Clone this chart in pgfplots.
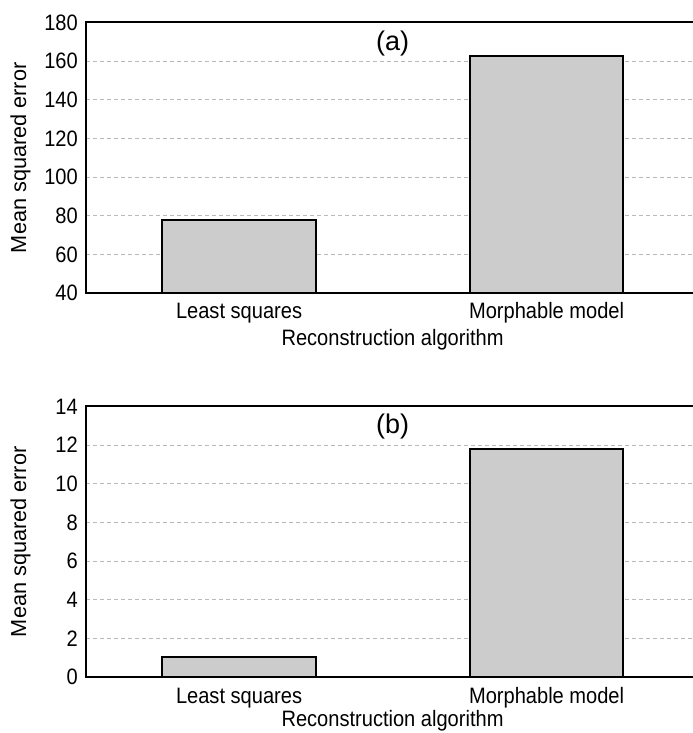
\documentclass[border=0pt]{standalone}
\usepackage{pgfplots}
\pgfplotsset{compat=1.18}
\usepackage{fontspec}
\setmainfont{Liberation Sans}[FakeStretch=0.9]
\newfontfamily\ylfont{Liberation Sans}
\definecolor{barfill}{RGB}{204,204,204}
\definecolor{gridc}{RGB}{185,185,185}

\pgfplotsset{
  mystyle/.style={
    scale only axis, width=607bp, height=270.5bp,
    xmin=-0.4976, xmax=1.476,
    xtick={0,1}, xticklabels={Least squares, Morphable model},
    ybar, bar width=0.5,
    major tick length=0pt,
    axis line style={draw=none},
    ymajorgrids,
    grid style={gridc, line width=0.8bp, dash pattern=on 4bp off 3bp},
    xticklabel style={anchor=base, yshift=-26bp, inner sep=0pt},
    yticklabel style={anchor=east, inner sep=0pt, xshift=-8bp},
    /pgf/number format/assume math mode=true,
    xlabel={Reconstruction algorithm},
    xlabel style={at={(axis description cs:0.505,0)}, anchor=base, inner sep=0pt},
    ylabel={\ylfont\fontsize{21.7bp}{26bp}\selectfont Mean squared error},
    ylabel style={at={(axis description cs:-0.108,0.5)}, anchor=center, inner sep=0pt},
  }
}

\begin{document}
\begin{tikzpicture}[font=\fontsize{22.3bp}{26bp}\selectfont]
\begin{axis}[mystyle, name=top, at={(86bp,440bp)}, anchor=south west,
  ymin=40, ymax=180, ytick={40,60,...,180},
  xlabel style={yshift=-53bp}]
  \addplot[fill=barfill, draw=black, line width=2bp] coordinates {(0,78) (1,162.5)};
  \node[font=\ylfont\fontsize{27bp}{30bp}\selectfont] at (axis description cs:0.505,1) [yshift=-21bp] {(a)};
\end{axis}
\draw[line width=2bp, line join=miter] (top.south east) -- (top.south west) -- (top.north west) -- (top.north east);

\begin{axis}[mystyle, name=bot, at={(86bp,56bp)}, anchor=south west,
  ymin=0, ymax=14, ytick={0,2,...,14},
  xlabel style={yshift=-49bp}]
  \addplot[fill=barfill, draw=black, line width=2bp] coordinates {(0,1.05) (1,11.8)};
  \node[font=\ylfont\fontsize{27bp}{30bp}\selectfont] at (axis description cs:0.505,1) [yshift=-20bp] {(b)};
\end{axis}
\draw[line width=2bp, line join=miter] (bot.south east) -- (bot.south west) -- (bot.north west) -- (bot.north east);

\pgfresetboundingbox
\path (0,0) rectangle (693bp,733bp);
\end{tikzpicture}
\end{document}
